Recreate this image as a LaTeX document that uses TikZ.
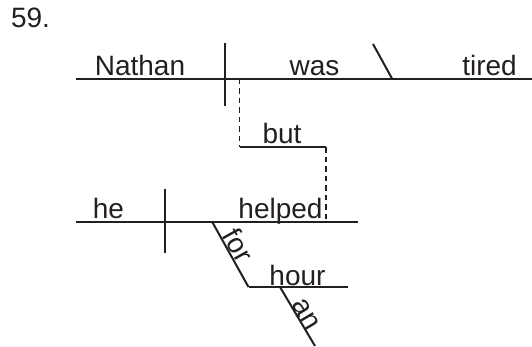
\documentclass[tikz,border=0pt]{standalone}
\usepackage{fontspec}
\setmainfont{Liberation Sans}
\definecolor{ink}{HTML}{231F20}
\begin{document}
\begin{tikzpicture}[x=1pt,y=-1pt,
  rule/.style={draw=ink, line width=2pt},
  thinrule/.style={draw=ink, line width=1.6pt},
  dashrule/.style={draw=ink, line width=1.6pt, dash pattern=on 5.5pt off 4pt},
  word/.style={text=ink, font=\fontsize{28}{32}\selectfont, inner sep=0pt, anchor=base}]
\useasboundingbox (0,0) rectangle (532,346);
% coordinates
\coordinate (L1s) at (76,78.5);
\coordinate (L1e) at (532,78.5);
\coordinate (D1t) at (225,43);
\coordinate (D1b) at (225,106);
\coordinate (S1t) at (373,44);
\coordinate (S1b) at (392,78.5);
\coordinate (C1) at (239.5,78.5);
\coordinate (C2) at (239.5,147);
\coordinate (C3) at (326,147);
\coordinate (C4) at (326,221.5);
\coordinate (L2s) at (76,221.5);
\coordinate (L2e) at (358,221.5);
\coordinate (D2t) at (165,189);
\coordinate (D2b) at (165,252.5);
\coordinate (F1) at (212,221.5);
\coordinate (F2) at (248.5,287);
\coordinate (H2) at (348,287);
\coordinate (A1) at (280,287);
\coordinate (A2) at (315,346);
% lines
\draw[rule] (L1s) -- (L1e);
\draw[rule] (D1t) -- (D1b);
\draw[rule] (S1t) -- (S1b);
\draw[dashrule] (C1) -- (C2);
\draw[thinrule] (C2) -- (C3);
\draw[dashrule] (C3) -- (C4);
\draw[rule] (L2s) -- (L2e);
\draw[rule] (D2t) -- (D2b);
\draw[rule] (F1) -- (F2);
\draw[rule] (F2) -- (H2);
\draw[rule] (A1) -- (A2);
% words
\node[word, anchor=base west] (n59) at (10.8,27) {59.};
\node[word] (nathan) at (140,75.5) {Nathan};
\node[word] (was) at (314.5,75.5) {was};
\node[word] (tired) at (489.5,75.5) {tired};
\node[word] (but) at (282,143.5) {but};
\node[word] (he) at (108.5,218.5) {he};
\node[word] (helped) at (280.5,218.5) {helped};
\node[word] (hour) at (297.5,285.5) {hour};
\path (F1) -- (F2) node[word, sloped, pos=0.45, anchor=south, inner sep=1pt] (for) {for};
\path (A1) -- (A2) node[word, sloped, pos=0.54, anchor=south, inner sep=0.5pt] (an) {an};
\end{tikzpicture}
\end{document}
